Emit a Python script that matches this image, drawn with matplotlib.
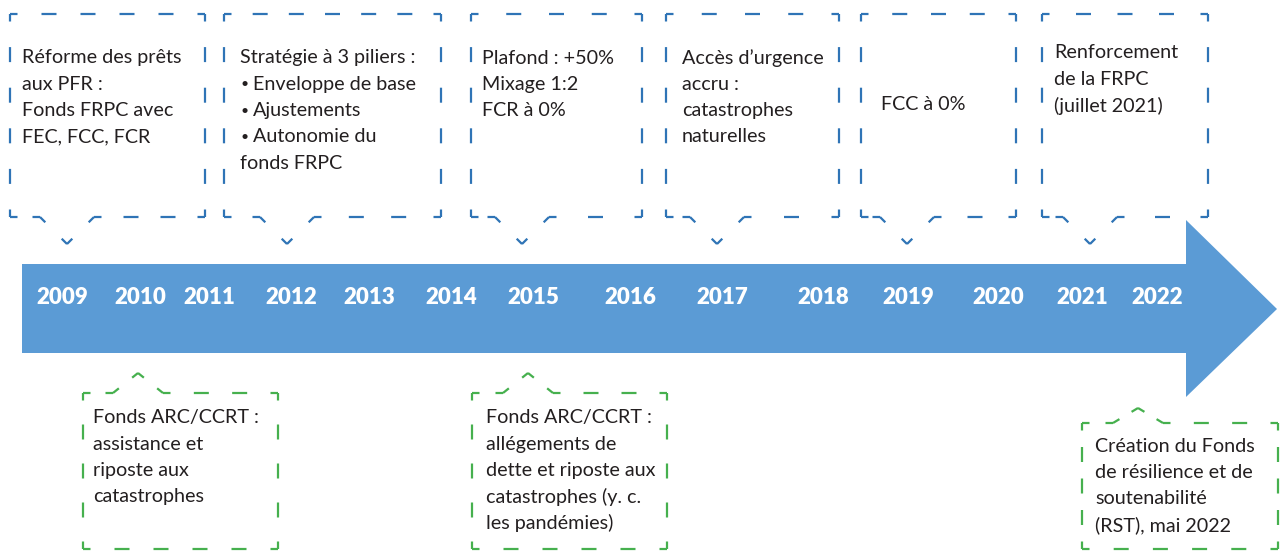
import numpy as np
import matplotlib.pyplot as plt
from matplotlib.patches import Polygon

plt.rcParams['font.family'] = ['Lato', 'DejaVu Sans']
plt.rcParams['lines.scale_dashes'] = False

# --- donnees ---
years = list(range(2009, 2023))

top_years = [2009, 2012, 2015, 2017, 2019, 2021]
top_texts = [
    "Réforme des prêts\naux PFR :\nFonds FRPC avec\nFEC, FCC, FCR",
    "Stratégie à 3 piliers :\n• Enveloppe de base\n• Ajustements\n• Autonomie du\nfonds FRPC",
    "Plafond : +50%\nMixage 1:2\nFCR à 0%",
    "Accès d’urgence\naccru :\ncatastrophes\nnaturelles",
    "FCC à 0%",
    "Renforcement\nde la FRPC\n(juillet 2021)",
]

bot_years = [2010, 2015, 2022]
bot_texts = [
    "Fonds ARC/CCRT :\nassistance et\nriposte aux\ncatastrophes",
    "Fonds ARC/CCRT :\nallégements de\ndette et riposte aux\ncatastrophes (y. c.\nles pandémies)",
    "Création du Fonds\nde résilience et de\nsoutenabilité\n(RST), mai 2022",
]

# --- mise en page (pixels) ---
W, H = 1285, 552
year_x = [62, 140, 209, 291, 369, 451, 533, 630, 722, 823, 908, 998, 1082, 1157]
year_y = 298
arrow = [(22, 264), (1186, 264), (1186, 220), (1277, 309), (1186, 397), (1186, 353), (22, 353)]

top_box = [(10, 205), (224, 441), (471, 642), (666, 839), (861, 1016), (1042, 1208)]
top_y0, top_y1 = 14, 217
top_ptr = [67, 287, 522, 717, 907, 1090]
top_txt_x = [22, 240, 482, 682, 881, 1054]
top_txt_y = [58, 58, 58, 58, 104, 53]

bot_box = [(83, 278, 393), (472, 667, 393), (1082, 1278, 423)]
bot_bottom = 549
bot_ptr = [(138, 373), (528, 373), (1138, 408)]
bot_txt_x = [93, 486, 1095]
bot_txt_y = [418, 418, 446]

line_h = 26.3
blue = '#2F74B6'
green = '#46B04E'
arrow_col = '#5B9BD5'
txt_col = '#231F20'


def edge(ax, p0, p1, color, dash=15, period=38, lw=1.6):
    L = np.hypot(p1[0] - p0[0], p1[1] - p0[1])
    n = max(1, int(round(L / period)))
    p = L / n
    k = 0.72  # px -> pt
    ax.plot([p0[0], p1[0]], [p0[1], p1[1]], color=color, lw=lw,
            dash_capstyle='butt',
            linestyle=(dash / 2 * k, (dash * k, (p - dash) * k)))


def box(ax, x0, x1, y0, y1, px, py, color, bottom_ptr, hw, period):
    if bottom_ptr:
        pts = [(x0, y0), (x1, y0), (x1, y1), (px + hw, y1), (px, py),
               (px - hw, y1), (x0, y1), (x0, y0)]
    else:
        pts = [(x0, y0), (px - hw, y0), (px, py), (px + hw, y0), (x1, y0),
               (x1, y1), (x0, y1), (x0, y0)]
    for a, b in zip(pts[:-1], pts[1:]):
        edge(ax, a, b, color, period=period)


def lines(ax, x, y, text):
    for i, s in enumerate(text.split('\n')):
        if s.startswith('• '):
            ax.text(x + 1, y + i * line_h, '•', ha='left', va='center',
                    fontsize=10, color=txt_col)
            ax.text(x + 13, y + i * line_h, s[2:], ha='left', va='center',
                    fontsize=14.2, color=txt_col)
        else:
            ax.text(x, y + i * line_h, s, ha='left', va='center',
                    fontsize=14.2, color=txt_col)


fig = plt.figure(figsize=(W / 100, H / 100), dpi=100)
ax = fig.add_axes([0, 0, 1, 1])
ax.set_xlim(0, W)
ax.set_ylim(H, 0)
ax.axis('off')

ax.add_patch(Polygon(arrow, closed=True, facecolor=arrow_col, edgecolor='none'))
for yr, x in zip(years, year_x):
    ax.text(x, year_y, str(yr), ha='center', va='center', color='white',
            fontsize=16, fontweight='heavy')

for i, (yr, t) in enumerate(zip(top_years, top_texts)):
    x0, x1 = top_box[i]
    box(ax, x0, x1, top_y0, top_y1, top_ptr[i], top_y1 + 27, blue, True, 27, 39)
    lines(ax, top_txt_x[i], top_txt_y[i], t)

for i, (yr, t) in enumerate(zip(bot_years, bot_texts)):
    x0, x1, y0 = bot_box[i]
    px, py = bot_ptr[i]
    box(ax, x0, x1, y0, bot_bottom, px, py, green, False, 25, 36)
    lines(ax, bot_txt_x[i], bot_txt_y[i], t)

fig.savefig('out.png', dpi=100)
